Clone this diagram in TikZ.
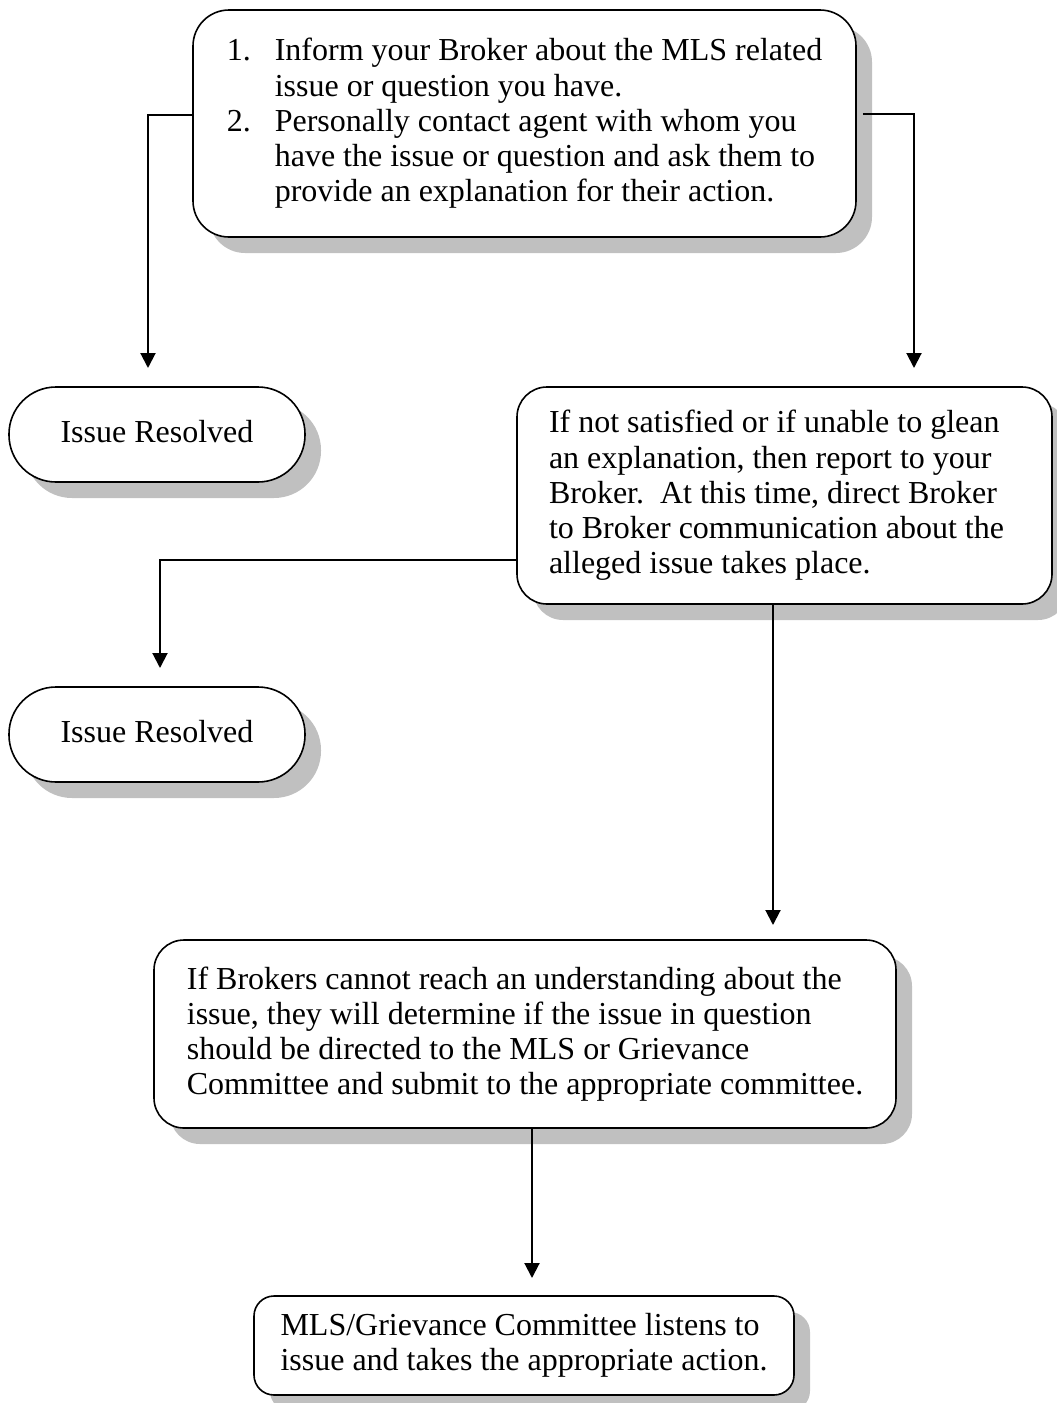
\documentclass[tikz,border=0pt]{standalone}
\usepackage{fontspec}
\setmainfont{Liberation Serif}
\usetikzlibrary{arrows.meta,shadows}
\definecolor{shade}{HTML}{C0C0C0}
\tikzset{
  stepbox/.style={draw, line width=0.8pt, fill=white, inner sep=0pt, align=flush left,
    font=\fontsize{16pt}{17.6pt}\selectfont,
    drop shadow={shadow xshift=8pt, shadow yshift=-8pt, fill=shade, opacity=1}},
  endbox/.style={stepbox, rounded corners=23.5pt, minimum width=148pt, minimum height=47.5pt},
  arr/.style={line width=1pt, -{Triangle[width=7.5pt,length=7.5pt]}}
}
\begin{document}
\begin{tikzpicture}[x=0.5pt, y=-0.5pt]
\useasboundingbox (0,0) rectangle (1056,1403);
\node[stepbox, rounded corners=18pt, minimum width=331.5pt, minimum height=113.5pt] (top) at (524.5,123.5)
  {\makebox[24pt][l]{1.}Inform your Broker about the MLS related\\
   \hspace*{24pt}issue or question you have.\\
   \makebox[24pt][l]{2.}Personally contact agent with whom you\\
   \hspace*{24pt}have the issue or question and ask them to\\
   \hspace*{24pt}provide an explanation for their action.};
\node[endbox] (res1) at (157,434.5) {\raisebox{3pt}{Issue Resolved}};
\node[stepbox, rounded corners=15pt, minimum width=267.5pt, minimum height=108.5pt, text width=235.5pt] (mid) at (784.5,495.5)
  {If not satisfied or if unable to glean\\
   an explanation, then report to your\\
   Broker.\ \ At this time, direct Broker\\
   to Broker communication about the\\
   alleged issue takes place.};
\node[endbox] (res2) at (157,734.5) {\raisebox{3pt}{Issue Resolved}};
\node[stepbox, rounded corners=15pt, minimum width=371pt, minimum height=94pt] (low) at (525,1034)
  {If Brokers cannot reach an understanding about the\\
   issue, they will determine if the issue in question\\
   should be directed to the MLS or Grievance\\
   Committee and submit to the appropriate committee.};
\node[stepbox, rounded corners=10pt, minimum width=270pt, minimum height=49.5pt] (last) at (524,1345.5)
  {MLS/Grievance Committee listens to\\
   issue and takes the appropriate action.};
\coordinate (t1) at (148,368);
\coordinate (t2) at (914,368);
\coordinate (t3) at (160,668);
\coordinate (t4) at (773,925);
\coordinate (t5) at (532,1278);
\draw[arr] ([yshift=4.25pt]top.west) -| (t1);
\draw[arr] ([xshift=3pt,yshift=4.75pt]top.east) -| (t2);
\draw[arr] ([yshift=-32.25pt]mid.west) -| (t3);
\draw[arr] (mid.south -| t4) -- (t4);
\draw[arr] (low.south -| t5) -- (t5);
\end{tikzpicture}
\end{document}
